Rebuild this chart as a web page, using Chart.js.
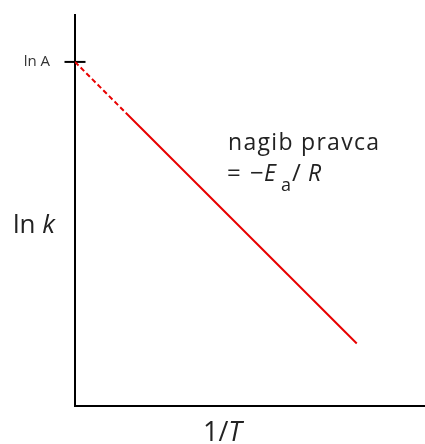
<!DOCTYPE html>
<html><head><meta charset="utf-8">
<script src="https://cdn.jsdelivr.net/npm/chart.js@4"></script>
<style>html,body{margin:0;padding:0;background:#fff;overflow:hidden}#wrap{width:425px;height:444px}canvas{display:block}</style>
</head><body><div id="wrap"><canvas id="c"></canvas></div>
<script>
// ---- data ----
const lnAValue = 8.8;
const yTickLabels = ['ln A'];
const dashedX = [0, 1.45];
const dashedY = [8.8, 7.5];
const solidX = [1.45, 8.05];
const solidY = [7.5, 1.6];
const xRange = [0, 10];
const yRange = [0, 10];

const toPts = (xs, ys) => xs.map((x, i) => ({x, y: ys[i]}));
const FONT = '"Open Sans"';

const textPlugin = {
  id: 'texts',
  afterDraw(chart) {
    const ctx = chart.ctx;
    ctx.save();
    ctx.fillStyle = '#222';
    ctx.textBaseline = 'alphabetic';
    ctx.textAlign = 'left';
    const setFont = r => {
      ctx.font = (r.italic ? 'italic ' : '') + r.size + 'px ' + FONT;
      ctx.letterSpacing = (r.ls || 0) + 'px';
    };
    const runs = (x, y, list) => {
      for (const r of list) {
        setFont(r);
        const px = r.x !== undefined ? r.x : x;
        ctx.fillText(r.t, px, y + (r.dy || 0));
        x = px + ctx.measureText(r.t).width;
      }
    };
    runs(13, 233, [{t: 'ln ', size: 26}, {t: 'k', size: 26, italic: true}]);
    runs(203, 441, [{t: '1/', size: 27}, {t: 'T', size: 27, italic: true}]);
    runs(228, 150, [{t: 'nagib pravca', size: 23, ls: 1.3}]);
    runs(228, 181, [{t: '=', size: 24, x: 227}, {t: '−', size: 24, x: 250},
                    {t: 'E', size: 23, italic: true, x: 264},
                    {t: 'a', size: 18, dy: 10, x: 281}, {t: '/', size: 24, x: 292},
                    {t: 'R', size: 23, italic: true, x: 308}]);
    ctx.restore();
  }
};

new Chart(document.getElementById('c'), {
  type: 'scatter',
  data: {
    datasets: [
      { data: toPts(dashedX, dashedY), showLine: true, borderColor: 'rgb(232,0,0)', borderWidth: 2,
        borderDash: [5, 3], pointRadius: 0 },
      { data: toPts(solidX, solidY), showLine: true, borderColor: 'rgb(232,0,0)', borderWidth: 2,
        pointRadius: 0 },
      { data: [{x: xRange[0], y: lnAValue}], pointStyle: 'line', pointRadius: 10.5,
        borderColor: '#000', backgroundColor: '#000', pointBorderWidth: 2, clip: false }
    ]
  },
  options: {
    responsive: true, maintainAspectRatio: false, animation: false, events: [],
    layout: { autoPadding: false, padding: { top: 15, right: 0, left: 0, bottom: 0 } },
    plugins: { legend: { display: false }, tooltip: { enabled: false } },
    scales: {
      x: { type: 'linear', min: xRange[0], max: xRange[1],
           grid: { display: false }, ticks: { display: false },
           border: { display: true, color: '#000', width: 2 },
           afterFit: s => { s.height = 38; s.paddingLeft = 0; s.paddingRight = 0; } },
      y: { type: 'linear', min: yRange[0], max: yRange[1],
           grid: { display: false },
           border: { display: true, color: '#000', width: 2 },
           afterBuildTicks: s => { s.ticks = [{value: lnAValue}]; },
           ticks: { callback: () => yTickLabels[0], color: '#333', padding: 17,
                    font: { family: 'Open Sans', size: 15 } },
           afterFit: s => { s.width = 75; s.paddingTop = 0; s.paddingBottom = 0; } }
    }
  },
  plugins: [textPlugin]
});
</script></body></html>
